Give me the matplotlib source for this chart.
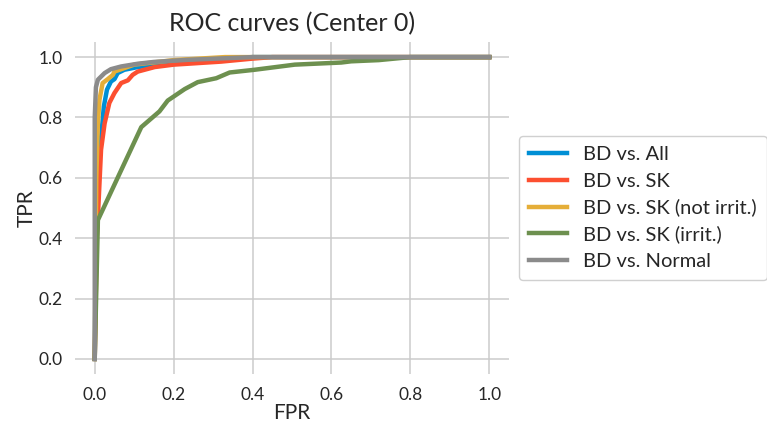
import matplotlib
matplotlib.use("Agg")
import matplotlib.pyplot as plt

# ROC points (FPR, TPR) per comparison
fpr_all = [0.0, 0.004, 0.008, 0.016, 0.023, 0.031, 0.041, 0.05, 0.058, 0.075, 0.109, 0.2, 0.3, 0.4, 1.0]
tpr_all = [0.0, 0.50, 0.62, 0.73, 0.836, 0.892, 0.919, 0.927, 0.947, 0.958, 0.967, 0.98, 0.99, 1.0, 1.0]

fpr_sk = [0.0, 0.005, 0.008, 0.016, 0.025, 0.037, 0.05, 0.067, 0.084, 0.096, 0.109, 0.152, 0.20, 0.32, 0.40, 0.45, 1.0]
tpr_sk = [0.0, 0.40, 0.47, 0.693, 0.78, 0.848, 0.881, 0.914, 0.923, 0.941, 0.952, 0.967, 0.975, 0.985, 0.995, 1.0, 1.0]

fpr_sk_not = [0.0, 0.004, 0.008, 0.012, 0.020, 0.033, 0.046, 0.05, 0.1, 0.2, 0.33, 1.0]
tpr_sk_not = [0.0, 0.60, 0.78, 0.859, 0.914, 0.927, 0.941, 0.952, 0.975, 0.99, 1.0, 1.0]

fpr_sk_irr = [0.0, 0.008, 0.118, 0.164, 0.185, 0.228, 0.261, 0.308, 0.342, 0.405, 0.507, 0.625, 0.65, 0.72, 0.8, 1.0]
tpr_sk_irr = [0.0, 0.46, 0.768, 0.820, 0.856, 0.894, 0.917, 0.930, 0.949, 0.958, 0.975, 0.982, 0.986, 0.99, 1.0, 1.0]

fpr_normal = [0.0, 0.0, 0.003, 0.008, 0.025, 0.041, 0.067, 0.109, 0.15, 0.236, 0.4, 1.0]
tpr_normal = [0.0, 0.80, 0.90, 0.925, 0.947, 0.96, 0.969, 0.978, 0.984, 0.991, 1.0, 1.0]

labels = ["BD vs. All", "BD vs. SK", "BD vs. SK (not irrit.)", "BD vs. SK (irrit.)", "BD vs. Normal"]
colors = ["#008fd5", "#fc4f30", "#e5ae38", "#6d904f", "#8b8b8b"]

plt.rcParams["font.family"] = ["Lato", "DejaVu Sans"]

fig = plt.figure(figsize=(7.67, 4.23), dpi=100)
ax = fig.add_axes([0.0978, 0.1158, 0.5658, 0.7849])

curves = [(fpr_all, tpr_all), (fpr_sk, tpr_sk), (fpr_sk_not, tpr_sk_not),
          (fpr_sk_irr, tpr_sk_irr), (fpr_normal, tpr_normal)]
for (f, t), lab, c in zip(curves, labels, colors):
    ax.plot(f, t, color=c, lw=3.2, label=lab, solid_joinstyle="round")

ax.set_xlim(-0.05, 1.05)
ax.set_ylim(-0.05, 1.05)
ax.set_xticks([0.0, 0.2, 0.4, 0.6, 0.8, 1.0])
ax.set_yticks([0.0, 0.2, 0.4, 0.6, 0.8, 1.0])
ax.grid(True, color="#cbcbcb", lw=1.1)
ax.set_axisbelow(True)
for s in ax.spines.values():
    s.set_visible(False)
ax.tick_params(length=0, pad=9, labelsize=12.5, labelcolor="#262626")

ax.set_title("ROC curves (Center 0)", fontsize=18, color="#262626", pad=8)
ax.set_xlabel("FPR", fontsize=15, color="#262626", labelpad=0)
ax.set_ylabel("TPR", fontsize=15, color="#262626", labelpad=1)

leg = ax.legend(loc="center left", bbox_to_anchor=(1.0, 0.5), fontsize=14.5,
                frameon=True, framealpha=1, edgecolor="#d0d0d0",
                handlelength=1.9, handletextpad=0.8, labelspacing=0.45,
                borderpad=0.5)
for line in leg.get_lines():
    line.set_linewidth(3.2)
for txt in leg.get_texts():
    txt.set_color("#262626")

fig.savefig("out.png", dpi=100, facecolor="white")
